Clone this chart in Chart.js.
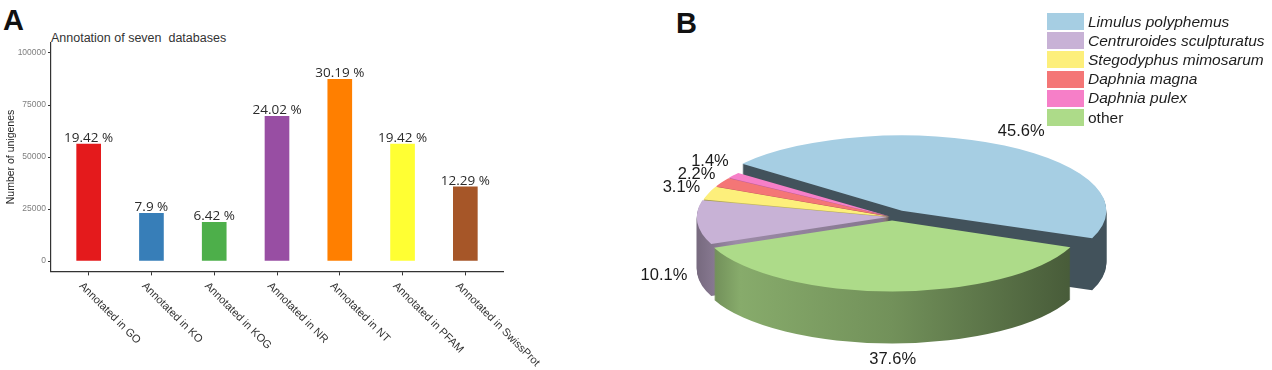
<!DOCTYPE html>
<html>
<head>
<meta charset="utf-8">
<script src="https://cdn.jsdelivr.net/npm/chart.js@4"></script>
<style>
  body { margin:0; background:#fff; font-family:"Liberation Sans", Arial, sans-serif; }
  #page { position:relative; width:1272px; height:370px; overflow:hidden; background:#fff; }
  .letter { position:absolute; font-weight:bold; font-size:29px; line-height:29px; color:#111; }
  .title-a { position:absolute; left:51px; top:32px; font-size:12.5px; line-height:13px; color:#333; white-space:pre; }
  .box { position:absolute; top:0; height:370px; }
  #legendB { position:absolute; left:1047px; top:12px; }
  .lg-row { display:flex; align-items:center; height:19.2px; }
  .lg-sw { width:37px; height:17px; margin-right:4px; }
  .lg-tx { font-size:15.5px; color:#1e1e1e; white-space:nowrap; }
</style>
</head>
<body>
<div id="page">
  <div class="letter" style="left:3px;top:6px">A</div>
  <div class="title-a">Annotation of seven  databases</div>
  <div class="box" style="left:0;width:620px"><canvas id="chart-a"></canvas></div>

  <div class="letter" style="left:676px;top:9px">B</div>
  <div class="box" style="left:620px;width:652px"><canvas id="chart-b"></canvas></div>
  <div id="legendB"></div>
</div>

<script>
// Panel A – Annotation der Datenbanken
const dbLabels = ['Annotated in GO', 'Annotated in KO', 'Annotated in KOG', 'Annotated in NR',
                  'Annotated in NT', 'Annotated in PFAM', 'Annotated in SwissProt'];
const dbCounts = [56200, 22900, 18600, 69500, 87400, 56200, 35600];
const dbPercent = ['19.42 %', '7.9 %', '6.42 %', '24.02 %', '30.19 %', '19.42 %', '12.29 %'];
const dbColors = ['#e41a1c', '#377eb8', '#4daf4a', '#984ea3', '#ff7f00', '#ffff33', '#a65628'];
const yTicks = [0, 25000, 50000, 75000, 100000];

// Panel B – Artenverteilung
const speciesLabels = ['Limulus polyphemus', 'Centruroides sculpturatus', 'Stegodyphus mimosarum',
                       'Daphnia magna', 'Daphnia pulex', 'other'];
const speciesShare = [45.6, 10.1, 3.1, 2.2, 1.4, 37.6];
const speciesColors = ['#a6cee3', '#c8b2d6', '#fdef7b', '#f47676', '#f67fc8', '#addb89'];
// Reihenfolge der Segmente im Uhrzeigersinn
const pieOrder = [0, 5, 1, 2, 3, 4];

// Darstellung
const sliceOffset = [64, 12, 8, 8, 8, 30];
const wallFlat = [0.4, null, null, null, null, null];
const wallProfile = [[0, 0.6], [0.1, 0.78], [0.5, 0.66], [1, 0.4]];
const PIE_CX = 272, PIE_CY = 217, PIE_RX = 190, PIE_RY = 70, PIE_DEPTH = 52;

function shade(hex, f) {
  const n = parseInt(hex.slice(1), 16);
  const r = Math.round(((n >> 16) & 255) * f), g = Math.round(((n >> 8) & 255) * f), b = Math.round((n & 255) * f);
  return `rgb(${r},${g},${b})`;
}

const barLabels = {
  id: 'barLabels',
  afterDatasetsDraw(chart) {
    const ctx = chart.ctx;
    const meta = chart.getDatasetMeta(0);
    ctx.save();
    ctx.font = '13.5px "Open Sans"';
    ctx.fillStyle = '#2b2b2b';
    ctx.textAlign = 'center';
    ctx.textBaseline = 'alphabetic';
    meta.data.forEach((bar, i) => ctx.fillText(dbPercent[i], bar.x, bar.y - 2));
    ctx.restore();
  },
  afterDraw(chart) {
    const ctx = chart.ctx;
    const xs = chart.scales.x;
    ctx.save();
    ctx.font = '11px "Liberation Sans"';
    ctx.fillStyle = '#333';
    ctx.textAlign = 'left';
    ctx.textBaseline = 'top';
    dbLabels.forEach((t, i) => {
      ctx.save();
      ctx.translate(xs.getPixelForValue(i) - 4, xs.top + 9);
      ctx.rotate(Math.PI / 4);
      ctx.fillText(t, 0, 0);
      ctx.restore();
    });
    ctx.restore();
  }
};

new Chart(document.getElementById('chart-a'), {
  type: 'bar',
  data: {
    datasets: [{
      data: dbCounts.map((v, i) => ({ x: i, y: v })),
      backgroundColor: dbColors,
      borderWidth: 0,
      barThickness: 24
    }]
  },
  options: {
    animation: false,
    responsive: true,
    maintainAspectRatio: false,
    layout: { padding: { top: 42.6, right: 117, left: 0, bottom: 0 } },
    plugins: { legend: { display: false }, tooltip: { enabled: false } },
    scales: {
      x: {
        type: 'linear', min: -0.6, max: 6.6, offset: false,
        afterBuildTicks: s => { s.ticks = dbLabels.map((_, i) => ({ value: i })); },
        afterFit: s => { s.height = 98.6; },
        ticks: { display: false },
        grid: { drawOnChartArea: false, offset: false, tickLength: 4, color: '#333' },
        border: { color: '#333', width: 1.2 }
      },
      y: {
        min: -5000, max: 105000,
        afterBuildTicks: s => { s.ticks = yTicks.map(v => ({ value: v })); },
        afterFit: s => { s.width = 51; },
        ticks: { color: '#7f7f7f', font: { size: 8.5, family: 'Liberation Sans' }, padding: 2, callback: v => String(v) },
        grid: { drawOnChartArea: false, tickLength: 3, color: '#333' },
        border: { color: '#333', width: 1.2 },
        title: { display: true, text: 'Number of unigenes', color: '#222',
                 font: { size: 10.5, family: 'Liberation Sans' }, padding: { top: 5, bottom: 0 } }
      }
    }
  },
  plugins: [barLabels]
});

// 3D-Effekt: Segmente mehrfach nach unten versetzt zeichnen (Seitenwände), dann die Oberseite
const pie3d = {
  id: 'pie3d',
  beforeDatasetsDraw(chart) {
    const ctx = chart.ctx;
    const arcs = chart.getDatasetMeta(0).data;
    const a0 = arcs[0];
    const sx = PIE_RX / a0.outerRadius, sy = PIE_RY / a0.outerRadius;
    const squash = dy => ctx.setTransform(sx, 0, 0, sy, PIE_CX - a0.x * sx, PIE_CY + dy - a0.y * sy);
    // Wände als Kopien der Segmente mit dunklerem Verlauf
    const walls = arcs.map((a, j) => {
      const g = ctx.createLinearGradient(a0.x - a0.outerRadius, 0, a0.x + a0.outerRadius, 0);
      const flat = wallFlat[pieOrder[j]];
      wallProfile.forEach(([p, f]) => g.addColorStop(p, shade(speciesColors[pieOrder[j]], flat ?? f)));
      const w = Object.create(a);
      w.options = Object.assign({}, a.options, { backgroundColor: g });
      return w;
    });
    ctx.save();
    for (let d = PIE_DEPTH; d > 0; d--) {
      squash(d);
      walls.forEach(w => w.draw(ctx));
    }
    squash(0);
  },
  afterDatasetsDraw(chart) {
    const ctx = chart.ctx;
    ctx.restore();
    const arcs = chart.getDatasetMeta(0).data;
    const sx = PIE_RX / arcs[0].outerRadius, sy = PIE_RY / arcs[0].outerRadius;
    ctx.save();
    ctx.font = '16.5px "Liberation Sans"';
    ctx.fillStyle = '#1a1a1a';
    ctx.textAlign = 'center';
    ctx.textBaseline = 'middle';
    const placed = [];
    arcs.forEach((a, j) => {
      const mid = (a.startAngle + a.endAngle) / 2;
      const c = Math.cos(mid), s = Math.sin(mid);
      const t = (a.options.offset || 0) / 4;
      const fix = 1 - Math.sin(Math.min(Math.PI, a.circumference));
      const rr = a.outerRadius + t * fix + t;
      const px = PIE_CX + c * rr * sx;
      const py = PIE_CY + s * rr * sy + (s > -0.1 ? PIE_DEPTH : 0);
      const txt = speciesShare[pieOrder[j]].toFixed(1) + '%';
      const w = ctx.measureText(txt).width, h = 12, gap = 10;
      const tx = px + c * (w / 2 + gap);
      let ty = py + s * (h / 2 + gap);
      // überlappende Beschriftungen nach oben schieben
      placed.forEach(b => {
        if (Math.abs(tx - b.x) < (w + b.w) / 2 && Math.abs(ty - b.y) < h + 1) ty = b.y - h - 1;
      });
      placed.push({ x: tx, y: ty, w });
      ctx.fillText(txt, tx, ty);
    });
    ctx.restore();
  }
};

new Chart(document.getElementById('chart-b'), {
  type: 'pie',
  data: {
    labels: pieOrder.map(i => speciesLabels[i]),
    datasets: [{
      data: pieOrder.map(i => speciesShare[i]),
      backgroundColor: pieOrder.map(i => speciesColors[i]),
      offset: pieOrder.map(i => sliceOffset[i]),
      borderWidth: 0,
      clip: false
    }]
  },
  options: {
    animation: false,
    responsive: true,
    maintainAspectRatio: false,
    rotation: 308,
    layout: { padding: { right: 282 } },
    plugins: { legend: { display: false }, tooltip: { enabled: false } }
  },
  plugins: [pie3d]
});

// Legende
document.getElementById('legendB').innerHTML = speciesLabels.map((name, i) => `
  <div class="lg-row">
    <span class="lg-sw" style="background:${speciesColors[i]}"></span>
    <span class="lg-tx" style="font-style:${name === 'other' ? 'normal' : 'italic'}">${name}</span>
  </div>`).join('');
</script>
</body>
</html>
